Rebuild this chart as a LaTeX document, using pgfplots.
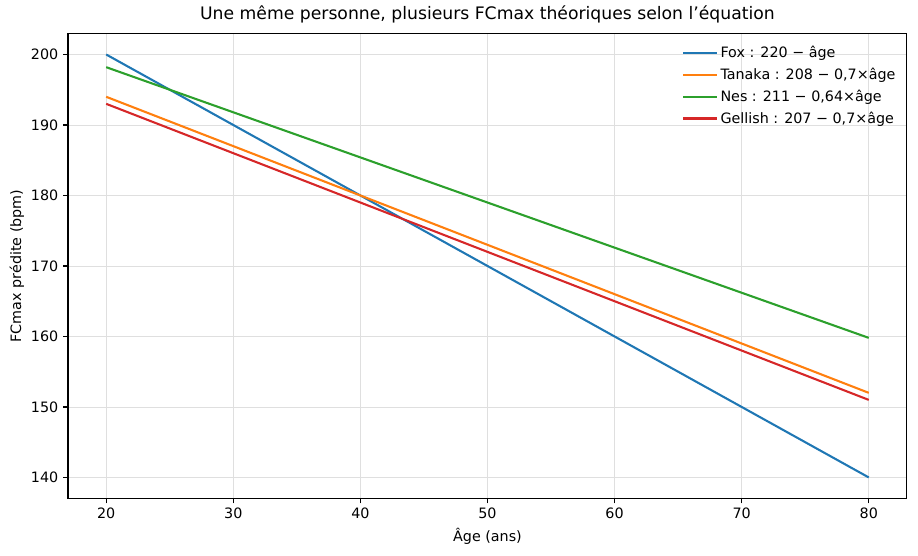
\documentclass[border=0pt]{standalone}
\usepackage{fontspec}
\setmainfont{DejaVu Sans}
\usepackage{pgfplots}
\pgfplotsset{compat=1.18}
\definecolor{tabblue}{HTML}{1F77B4}
\definecolor{taborange}{HTML}{FF7F0E}
\definecolor{tabgreen}{HTML}{2CA02C}
\definecolor{tabred}{HTML}{D62728}
\begin{document}
\begin{tikzpicture}
\begin{axis}[
  at={(0,0)}, anchor=south west,
  scale only axis, width=604pt, height=335pt,
  xmin=17, xmax=83, ymin=137, ymax=203,
  xtick={20,30,40,50,60,70,80},
  ytick={140,150,160,170,180,190,200},
  tick align=outside, tick pos=left,
  major tick length=3.5pt,
  grid=major, grid style={gray!25, line width=0.6pt},
  axis line style={line width=0.8pt},
  every tick/.style={black, line width=0.8pt},
  tick label style={font=\fontsize{10.3}{12}\selectfont},
  /pgf/number format/assume math mode=true,
  xlabel={Âge (ans)}, ylabel={FCmax prédite (bpm)},
  label style={font=\fontsize{10.3}{12}\selectfont},
  ylabel style={yshift=-2pt},
  title={Une même personne, plusieurs FCmax théoriques selon l’équation},
  title style={font=\fontsize{12.4}{14}\selectfont, yshift=-2pt},
  legend style={draw=none, fill=none, at={(0.995,0.985)}, anchor=north east,
    font=\fontsize{10.3}{13}\selectfont, row sep=2pt},
  legend cell align=left,
  legend image code/.code={\draw[#1, line width=1.5pt] (0pt,0pt) -- (21pt,0pt); \path (0pt,0pt) -- (24pt,0pt);},
  every axis plot/.append style={line width=1.5pt},
]
\addplot[tabblue] coordinates {(20,200) (80,140)};
\addlegendentry{Fox : 220 − âge}
\addplot[taborange] coordinates {(20,194) (80,152)};
\addlegendentry{Tanaka : 208 − 0,7×âge}
\addplot[tabgreen] coordinates {(20,198.2) (80,159.8)};
\addlegendentry{Nes : 211 − 0,64×âge}
\addplot[tabred] coordinates {(20,193) (80,151)};
\addlegendentry{Gellish : 207 − 0,7×âge}
\end{axis}
\path[use as bounding box] (-49pt,-41pt) rectangle (612pt,359pt);
\end{tikzpicture}
\end{document}
